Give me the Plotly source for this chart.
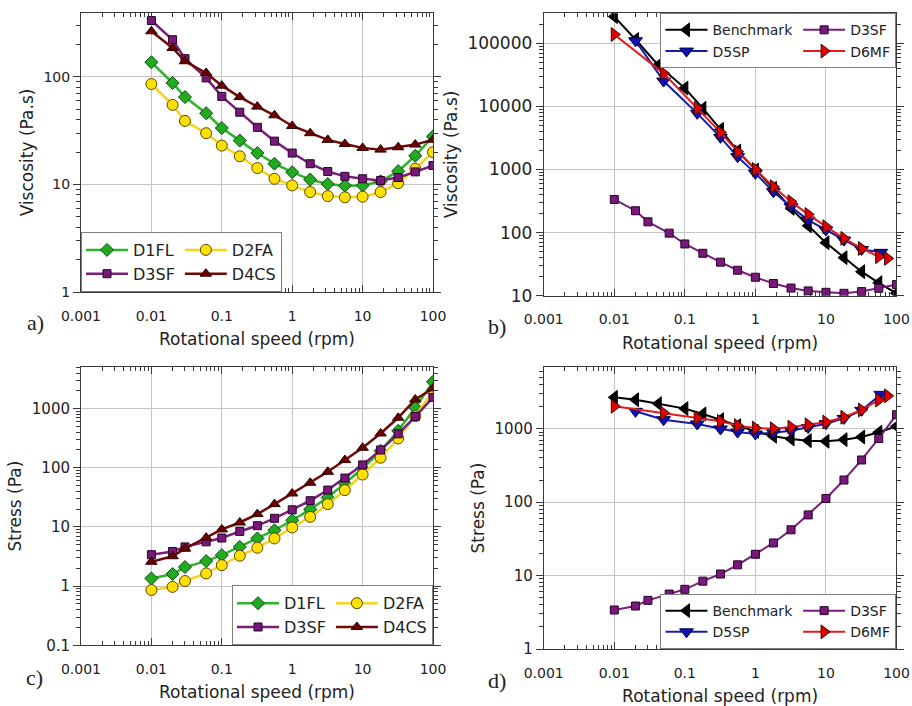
import plotly.graph_objects as go

# ---------------- data ----------------
X = [0.01, 0.02, 0.03, 0.06, 0.1, 0.18, 0.32, 0.56, 1, 1.8, 3.2, 5.6, 10, 18, 32, 56, 100]

D1FL_visc = [137, 88, 65, 46, 33.5, 25.6, 19.6, 15.6, 13.0, 11.1, 10.1, 9.75, 9.8, 10.7, 13.3, 18.5, 28]
D2FA_visc = [86, 55, 39, 30, 23, 18.3, 14.2, 11.3, 9.8, 8.5, 7.8, 7.6, 7.7, 8.5, 10.3, 14, 20]
D3SF_visc = [335, 222, 148, 98, 66, 47, 34, 25.3, 19.6, 15.6, 13.2, 11.9, 11.3, 10.9, 11.6, 13.1, 15.0]
D4CS_visc = [266, 186, 140, 109, 83, 65, 53, 44, 35, 30, 26, 23.8, 21.9, 21.1, 22.2, 23.5, 26.1]

D1FL_stress = [1.35, 1.6, 2.1, 2.65, 3.34, 4.6, 6.4, 8.8, 13, 19.8, 31.5, 54, 97.5, 194, 422, 1030, 2840]
D2FA_stress = [0.86, 0.97, 1.22, 1.64, 2.26, 3.26, 4.45, 6.4, 9.8, 14.8, 24.3, 41.9, 77, 148, 313, 747, 1980]
D3SF_stress = [3.4, 3.85, 4.6, 5.6, 6.5, 8.4, 10.5, 14.0, 19.5, 27.8, 42, 67, 112, 200, 375, 735, 1550]
D4CS_stress = [2.58, 3.2, 4.3, 6.6, 9.1, 11.9, 16.5, 24.3, 36.8, 55.8, 85.5, 135, 218, 380, 700, 1430, 2200]

BENCH_X = [0.01, 0.02, 0.042, 0.1, 0.18, 0.32, 0.56, 1, 1.8, 3.2, 5.6, 10, 18, 32, 56, 100]
BENCH_visc = [265000, 115000, 45000, 19500, 9300, 4330, 1960, 980, 503, 242, 128, 69, 40, 24, 16, 10.9]
BENCH_stress = [2670, 2480, 2190, 1875, 1585, 1327, 1100, 920, 787, 724, 687, 673, 709, 771, 893, 1077]

D5SP_X = [0.02, 0.05, 0.15, 0.32, 0.56, 1, 1.8, 3.2, 5.6, 10, 18, 32, 60]
D5SP_visc = [110000, 25200, 7760, 3230, 1596, 868, 445, 257, 158, 110, 76, 54, 48.6]
D5SP_stress = [1723, 1327, 1158, 990, 900, 847, 880, 940, 1035, 1170, 1380, 1780, 2930]

D6MF_X = [0.01, 0.05, 0.15, 0.32, 0.56, 1, 1.8, 3.2, 5.6, 10, 18, 32, 56, 75]
D6MF_visc = [138000, 33400, 9300, 3870, 1915, 1005, 534, 309, 194, 124, 81, 56, 41.5, 39]
D6MF_stress = [2017, 1636, 1400, 1260, 1100, 1020, 1000, 1050, 1130, 1230, 1430, 1800, 2450, 2800]

X_TICKS = [0.001, 0.01, 0.1, 1, 10, 100]
X_TICKTEXT = ["0.001", "0.01", "0.1", "1", "10", "100"]
YA_TICKS = [1, 10, 100]
YA_TICKTEXT = ["1", "10", "100"]
YB_TICKS = [10, 100, 1000, 10000, 100000]
YB_TICKTEXT = ["10", "100", "1000", "10000", "100000"]
YC_TICKS = [0.1, 1, 10, 100, 1000]
YC_TICKTEXT = ["0.1", "1", "10", "100", "1000"]
YD_TICKS = [1, 10, 100, 1000]
YD_TICKTEXT = ["1", "10", "100", "1000"]


def minor_vals(lo, hi):
    return [m * 10.0 ** e for e in range(lo, hi) for m in range(2, 10)]


# ---------------- styles ----------------
STY = {
    "D1FL": dict(line="#2cb52c", fill="#22aa22", edge="#0c4a0c", symbol="diamond", size=10),
    "D2FA": dict(line="#f6d31c", fill="#ffe000", edge="#5a4800", symbol="circle", size=11),
    "D3SF": dict(line="#7a1e7a", fill="#76197a", edge="#2a002a", symbol="square", size=8),
    "D4CS": dict(line="#730808", fill="#6a0000", edge="#2a0000", symbol="triangle-up", size=10),
    "Benchmark": dict(line="#000000", fill="#000000", edge="#000000", symbol="triangle-left", size=12),
    "D5SP": dict(line="#1a1aa8", fill="#1010b4", edge="#000040", symbol="triangle-down", size=12),
    "D6MF": dict(line="#e41c1c", fill="#e00000", edge="#400000", symbol="triangle-right", size=12),
}

fig = go.Figure()


def add(name, x, y, ax, legend, group, width=2.5):
    s = STY[name]
    fig.add_trace(go.Scatter(
        x=x, y=y, name=name, mode="lines+markers",
        xaxis="x" + ax, yaxis="y" + ax,
        legend=legend, legendgroup=legend + group,
        line=dict(color=s["line"], width=width),
        marker=dict(symbol=s["symbol"], size=s["size"], color=s["fill"],
                    line=dict(color=s["edge"], width=1)),
    ))


# panel a
add("D1FL", X, D1FL_visc, "", "legend", "g1")
add("D2FA", X, D2FA_visc, "", "legend", "g2")
add("D3SF", X, D3SF_visc, "", "legend", "g1")
add("D4CS", X, D4CS_visc, "", "legend", "g2")
# panel b
add("Benchmark", BENCH_X, BENCH_visc, "2", "legend2", "g1", 2)
add("D3SF", X, D3SF_visc, "2", "legend2", "g2", 2)
add("D5SP", D5SP_X, D5SP_visc, "2", "legend2", "g1", 2)
add("D6MF", D6MF_X, D6MF_visc, "2", "legend2", "g2", 2)
# panel c
add("D1FL", X, D1FL_stress, "3", "legend3", "g1")
add("D2FA", X, D2FA_stress, "3", "legend3", "g2")
add("D3SF", X, D3SF_stress, "3", "legend3", "g1")
add("D4CS", X, D4CS_stress, "3", "legend3", "g2")
# panel d
add("Benchmark", BENCH_X, BENCH_stress, "4", "legend4", "g1", 2)
add("D3SF", X, D3SF_stress, "4", "legend4", "g2", 2)
add("D5SP", D5SP_X, D5SP_stress, "4", "legend4", "g1", 2)
add("D6MF", D6MF_X, D6MF_stress, "4", "legend4", "g2", 2)

FONT = "DejaVu Sans"
TXT = "#222222"
GRID = "#c4c4c4"
LINE = "#3a3a3a"


def xaxis(domain, anchor):
    return dict(
        type="log", range=[-3, 2], domain=domain, anchor=anchor, automargin=False,
        tickmode="array", tickvals=X_TICKS, ticktext=X_TICKTEXT,
        ticks="inside", ticklen=7, tickcolor=LINE, tickwidth=1,
        minor=dict(tickmode="array", tickvals=minor_vals(-3, 2), ticks="inside", ticklen=4,
                   tickcolor=LINE, showgrid=False),
        showline=True, linecolor=LINE, linewidth=1, mirror="ticks",
        showgrid=True, gridcolor=GRID, gridwidth=1, zeroline=False,
        tickfont=dict(family=FONT, size=14, color=TXT), ticklabelstandoff=11,
        title=dict(text="Rotational speed (rpm)", font=dict(family=FONT, size=17, color=TXT), standoff=10),
    )


def yaxis(domain, anchor, rng, tv, tt, title, tsize=14):
    return dict(
        type="log", range=rng, domain=domain, anchor=anchor, automargin=False,
        tickmode="array", tickvals=tv, ticktext=tt,
        ticks="outside", ticklen=7, tickcolor=LINE, tickwidth=1,
        minor=dict(tickmode="array", tickvals=minor_vals(int(rng[0]) - 1, int(rng[1]) + 1),
                   ticks="outside", ticklen=4, tickcolor=LINE, showgrid=False),
        showline=True, linecolor=LINE, linewidth=1, mirror="ticks",
        showgrid=True, gridcolor=GRID, gridwidth=1, zeroline=False,
        tickfont=dict(family=FONT, size=tsize, color=TXT),
        title=dict(text=title, font=dict(family=FONT, size=17, color=TXT), standoff=5),
    )


XA = [0.0888, 0.4748]
XB = [0.5962, 0.9830]

LEG = dict(bgcolor="white", bordercolor="#808080", borderwidth=1, orientation="h",
           tracegroupgap=0, itemwidth=42)

fig.update_layout(
    width=912, height=706,
    margin=dict(l=0, r=0, t=0, b=0),
    paper_bgcolor="white", plot_bgcolor="white",
    xaxis=xaxis(XA, "y"),
    yaxis=yaxis([0.5864, 0.9816], "x", [0, 2.595], YA_TICKS, YA_TICKTEXT, "Viscosity (Pa.s)"),
    xaxis2=xaxis(XB, "y2"),
    yaxis2=yaxis([0.5812, 0.9812], "x2", [1, 5.476], YB_TICKS, YB_TICKTEXT, "Viscosity (Pa.s)", 17),
    xaxis3=xaxis(XA, "y3"),
    yaxis3=yaxis([0.0860, 0.4802], "x3", [-1, 3.704], YC_TICKS, YC_TICKTEXT, "Stress (Pa)", 15),
    xaxis4=xaxis(XB, "y4"),
    yaxis4=yaxis([0.0807, 0.4802], "x4", [0, 3.84], YD_TICKS, YD_TICKTEXT, "Stress (Pa)", 15),
    legend=dict(LEG, x=XA[0], y=0.5864, xanchor="left", yanchor="bottom",
                font=dict(family=FONT, size=16, color=TXT)),
    legend2=dict(LEG, x=XB[1], y=0.9812, xanchor="right", yanchor="top",
                 font=dict(family=FONT, size=14, color=TXT)),
    legend3=dict(LEG, x=XA[1], y=0.0860, xanchor="right", yanchor="bottom",
                 font=dict(family=FONT, size=16, color=TXT)),
    legend4=dict(LEG, x=XB[1], y=0.0807, xanchor="right", yanchor="bottom",
                 font=dict(family=FONT, size=14, color=TXT)),
)

for txt, x, y in [("a)", 0.0384, 0.5425), ("b)", 0.545, 0.5382), ("c)", 0.0373, 0.0397), ("d)", 0.545, 0.0368)]:
    fig.add_annotation(text=txt, x=x, y=y, xref="paper", yref="paper", showarrow=False,
                       xanchor="center", yanchor="middle",
                       font=dict(family="Liberation Serif", size=22, color=TXT))

fig.write_html("out.html")
